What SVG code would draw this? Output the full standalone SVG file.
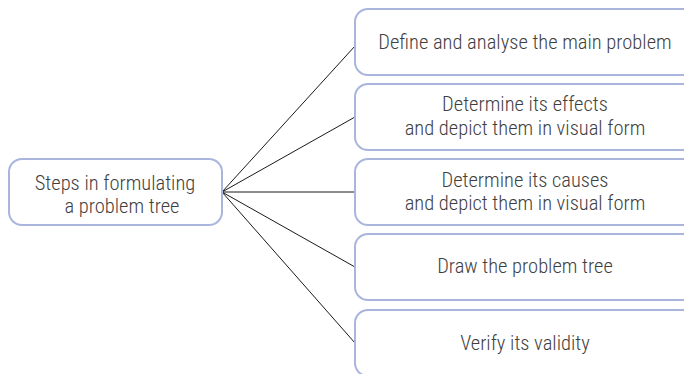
<svg xmlns="http://www.w3.org/2000/svg" width="684" height="374" viewBox="0 0 684 374">
  <style>
    .box { fill: #ffffff; stroke: #a9b5dd; stroke-width: 2; }
    .lbl { font-family: "Roboto", "Liberation Sans", sans-serif; font-size: 20.5px; font-weight: 300; fill: #3f3f3f; text-anchor: middle; font-stretch: condensed; }
    .link { stroke: #1a1a1a; stroke-width: 1; fill: none; }
  </style>
  <rect width="684" height="374" fill="#ffffff"/>
  <g id="connectors">
    <line class="link" x1="222" y1="192" x2="355" y2="46"/>
    <line class="link" x1="222" y1="192" x2="355" y2="117"/>
    <line class="link" x1="222" y1="192" x2="355" y2="192"/>
    <line class="link" x1="222" y1="192" x2="355" y2="267"/>
    <line class="link" x1="222" y1="192" x2="355" y2="343"/>
  </g>
  <g id="root">
    <rect class="box" x="9" y="159" width="213" height="66" rx="13"/>
    <text class="lbl" x="115" y="190">Steps in formulating</text>
    <text class="lbl" x="122" y="213">a problem tree</text>
  </g>
  <g id="step1">
    <rect class="box" x="355" y="9" width="345" height="66" rx="13"/>
    <text class="lbl" x="525" y="49">Define and analyse the main problem</text>
  </g>
  <g id="step2">
    <rect class="box" x="355" y="84" width="345" height="66" rx="13"/>
    <text class="lbl" x="525" y="111">Determine its effects</text>
    <text class="lbl" x="525" y="135">and depict them in visual form</text>
  </g>
  <g id="step3">
    <rect class="box" x="355" y="159" width="345" height="66" rx="13"/>
    <text class="lbl" x="525" y="187">Determine its causes</text>
    <text class="lbl" x="525" y="210">and depict them in visual form</text>
  </g>
  <g id="step4">
    <rect class="box" x="355" y="234" width="345" height="66" rx="13"/>
    <text class="lbl" x="525" y="273">Draw the problem tree</text>
  </g>
  <g id="step5">
    <rect class="box" x="355" y="310" width="345" height="66" rx="13"/>
    <text class="lbl" x="525" y="350">Verify its validity</text>
  </g>
</svg>
